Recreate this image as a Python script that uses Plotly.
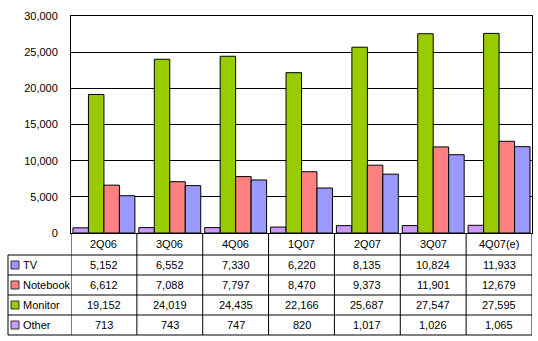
import plotly.graph_objects as go

# Quarterly shipments by application
quarters = ["2Q06", "3Q06", "4Q06", "1Q07", "2Q07", "3Q07", "4Q07(e)"]
tv = [5152, 6552, 7330, 6220, 8135, 10824, 11933]
notebook = [6612, 7088, 7797, 8470, 9373, 11901, 12679]
monitor = [19152, 24019, 24435, 22166, 25687, 27547, 27595]
other = [713, 743, 747, 820, 1017, 1026, 1065]

y_ticks = [0, 5000, 10000, 15000, 20000, 25000, 30000]

colors = {
    "TV": "#9999FF",
    "Notebook": "#FF8080",
    "Monitor": "#99CC00",
    "Other": "#CC99FF",
}

# bar order inside each group (left to right)
bar_series = [("Other", other), ("Monitor", monitor), ("Notebook", notebook), ("TV", tv)]
# row order in the data table (top to bottom)
table_rows = [("TV", tv), ("Notebook", notebook), ("Monitor", monitor), ("Other", other)]

W, H = 538, 341
L, R, T, B = 71, 6, 16, 108
pw, ph = W - L - R, H - T - B
bottom_px = H - B


def px_x(x):
    return (x - L) / pw


def px_y(y):
    return (bottom_px - y) / ph


FONT = "Arial, Liberation Sans, sans-serif"

fig = go.Figure()
for name, vals in bar_series:
    fig.add_trace(go.Bar(
        x=quarters, y=vals, name=name,
        marker=dict(color=colors[name], line=dict(color="black", width=1)),
    ))

shapes = []
annotations = []

# table grid
header_bottom = 255
row_h = 20
row_lines = [header_bottom + i * row_h for i in range(len(table_rows) + 1)]
table_left = 8
table_right = W - R
for y in row_lines:
    shapes.append(dict(type="line", xref="paper", yref="paper",
                       x0=px_x(table_left), x1=px_x(table_right),
                       y0=px_y(y), y1=px_y(y),
                       line=dict(color="black", width=1)))
shapes.append(dict(type="line", xref="paper", yref="paper",
                   x0=px_x(table_left), x1=px_x(table_left),
                   y0=px_y(row_lines[0]), y1=px_y(row_lines[-1]),
                   line=dict(color="black", width=1)))
for i in range(len(quarters) + 1):
    shapes.append(dict(type="line", xref="x", yref="paper",
                       x0=i - 0.5, x1=i - 0.5,
                       y0=0, y1=px_y(row_lines[-1]),
                       line=dict(color="black", width=1)))

# category header row
for q in quarters:
    annotations.append(dict(x=q, xref="x", yref="paper",
                            y=px_y((bottom_px + header_bottom) / 2),
                            text=q, showarrow=False,
                            font=dict(family=FONT, size=11, color="black"),
                            xanchor="center", yanchor="middle"))

# data rows with legend keys
for r, (name, vals) in enumerate(table_rows):
    yc = row_lines[r] + row_h / 2
    shapes.append(dict(type="rect", xref="paper", yref="paper",
                       x0=px_x(11), x1=px_x(19),
                       y0=px_y(yc - 4), y1=px_y(yc + 4),
                       fillcolor=colors[name],
                       line=dict(color="#333333", width=1)))
    annotations.append(dict(x=px_x(21), xref="paper", yref="paper",
                            y=px_y(yc), text=name, showarrow=False,
                            font=dict(family=FONT, size=11, color="black"),
                            xanchor="left", yanchor="middle"))
    for q, v in zip(quarters, vals):
        annotations.append(dict(x=q, xref="x", yref="paper", y=px_y(yc),
                                text=f"{v:,}", showarrow=False,
                                font=dict(family=FONT, size=11, color="black"),
                                xanchor="center", yanchor="middle"))

fig.update_layout(
    width=W, height=H,
    margin=dict(l=L, r=R, t=T, b=B, pad=0),
    paper_bgcolor="white", plot_bgcolor="white",
    barmode="group", bargap=0.06, bargroupgap=0,
    showlegend=False,
    shapes=shapes, annotations=annotations,
    font=dict(family=FONT, size=11, color="black"),
    xaxis=dict(showticklabels=False, ticks="", showline=True, linecolor="black",
               linewidth=1, mirror=True, showgrid=False, zeroline=False,
               range=[-0.5, len(quarters) - 0.5]),
    yaxis=dict(range=[0, 30000], tickvals=y_ticks, tickformat=",",
               showgrid=True, gridcolor="black", gridwidth=1,
               showline=True, linecolor="black", linewidth=1, mirror=True,
               zeroline=False, ticks="", ticklabelstandoff=10,
               tickfont=dict(family=FONT, size=11, color="black")),
)

fig.write_html("out.html")
